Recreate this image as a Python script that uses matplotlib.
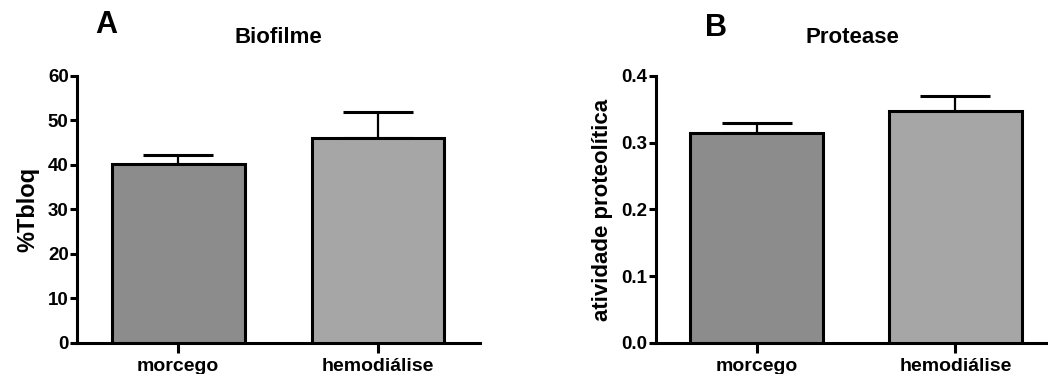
import matplotlib
matplotlib.use("Agg")
import matplotlib.pyplot as plt

categories = ["morcego", "hemodiálise"]
biofilme_mean = [40.3, 46.0]
biofilme_err = [1.9, 6.0]
protease_mean = [0.314, 0.347]
protease_err = [0.015, 0.023]
biofilme_ticks = [0, 10, 20, 30, 40, 50, 60]
protease_ticks = [0.0, 0.1, 0.2, 0.3, 0.4]
bar_colors = ["#8c8c8c", "#a6a6a6"]

plt.rcParams['font.family'] = ['Liberation Sans', 'DejaVu Sans']
plt.rcParams['font.weight'] = 'bold'

fig = plt.figure(figsize=(10.48, 3.74), dpi=100)
axA = fig.add_axes([0.0735, 0.0829, 0.3845, 0.714])
axB = fig.add_axes([0.626, 0.0829, 0.374, 0.714])

def draw(ax, means, errs, ticks, ylabel, ylsize, title, letter, xr, tickfmt, lx, ly):
    x = list(range(len(categories)))
    ax.bar(x, means, width=0.665, color=bar_colors, edgecolor='black',
           linewidth=2.2, zorder=3)
    ax.errorbar(x, means, yerr=[[0] * len(errs), errs], fmt='none',
                ecolor='black', elinewidth=1.6, capsize=25, capthick=2.2, zorder=2)
    ax.set_xlim(-0.505, xr)
    ax.set_ylim(ticks[0], ticks[-1])
    ax.set_yticks(ticks)
    ax.set_yticklabels([tickfmt(t) for t in ticks], fontsize=13.5, fontweight='bold')
    ax.set_xticks(x)
    ax.set_xticklabels(categories, fontsize=14, fontweight='bold')
    for s in ['top', 'right']:
        ax.spines[s].set_visible(False)
    for s in ['left', 'bottom']:
        ax.spines[s].set_linewidth(2.2)
    ax.tick_params(axis='y', length=5, width=2.2, pad=1)
    ax.tick_params(axis='x', length=7, width=2.2, pad=4)
    ax.set_ylabel(ylabel, fontsize=ylsize, fontweight='bold', labelpad=6)
    ax.set_title(title, fontsize=16, fontweight='bold', pad=24)
    ax.text(lx, ly, letter, transform=ax.transAxes, fontsize=22,
            fontweight='bold', ha='center', va='center')

draw(axA, biofilme_mean, biofilme_err, biofilme_ticks, '%Tbloq', 17, 'Biofilme', 'A',
     1.51, lambda t: f"{t:d}", 0.072, 1.19)
draw(axB, protease_mean, protease_err, protease_ticks, 'atividade proteolítica', 16,
     'Protease', 'B', 1.465, lambda t: f"{t:.1f}", 0.152, 1.18)

fig.savefig('out.png', dpi=100)
